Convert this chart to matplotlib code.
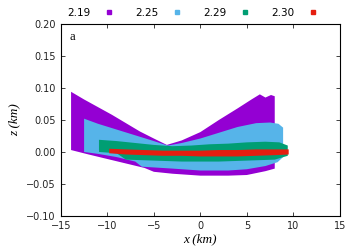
import matplotlib
matplotlib.use("Agg")
import matplotlib.pyplot as plt
from matplotlib.lines import Line2D

labels = ["2.19", "2.25", "2.29", "2.30"]
colors = ["#9400d3", "#56b4e9", "#009e73", "#e51e10"]

# 2.19
x_top_219 = [-13.9, -12.5, -11, -9.5, -8, -6.5, -5, -3.6, -2, 0, 2, 4, 5.5, 6.4, 7.0, 7.6, 8.0]
z_top_219 = [0.094, 0.082, 0.070, 0.058, 0.045, 0.032, 0.021, 0.011, 0.018, 0.031, 0.050, 0.068, 0.082, 0.090, 0.085, 0.089, 0.087]
x_bot_219 = [-13.9, -12, -10, -8, -6, -5, -3, 0, 3, 5, 7, 8.0]
z_bot_219 = [0.003, -0.004, -0.011, -0.018, -0.025, -0.031, -0.034, -0.037, -0.037, -0.036, -0.030, -0.026]

# 2.25
x_top_225 = [-12.5, -11, -9, -7, -5, -3.5, -2, 0, 2, 4, 6, 7.5, 8.4, 8.9]
z_top_225 = [0.052, 0.044, 0.035, 0.026, 0.017, 0.010, 0.014, 0.021, 0.030, 0.039, 0.045, 0.046, 0.044, 0.038]
x_bot_225 = [-12.5, -11, -9, -7, -6.3, -3, 0, 3, 5, 7, 8.3, 8.9]
z_bot_225 = [0.000, -0.003, -0.008, -0.015, -0.023, -0.026, -0.029, -0.029, -0.027, -0.022, -0.016, -0.008]

# 2.29
x_top_229 = [-10.9, -9, -7, -5, -3, -1, 1, 3, 5, 7, 8.5, 9.4]
z_top_229 = [0.019, 0.017, 0.014, 0.011, 0.009, 0.010, 0.012, 0.013, 0.015, 0.016, 0.015, 0.010]
x_bot_229 = [-10.9, -9, -8, -6, -4, -2, 0, 2, 4, 6, 8, 9.4]
z_bot_229 = [0.000, -0.002, -0.012, -0.013, -0.014, -0.015, -0.015, -0.015, -0.014, -0.013, -0.012, -0.006]

# 2.30
x_top_230 = [-9.8, -8, -6, -4, -2, 0, 2, 4, 6, 8, 9.5]
z_top_230 = [0.005, 0.004, 0.003, 0.002, 0.002, 0.002, 0.003, 0.003, 0.004, 0.004, 0.004]
x_bot_230 = [-9.8, -8, -6, -4, -2, 0, 2, 4, 6, 8, 9.5]
z_bot_230 = [-0.002, -0.004, -0.005, -0.006, -0.006, -0.007, -0.007, -0.007, -0.006, -0.005, -0.004]

shapes = [
    (x_top_219, z_top_219, x_bot_219, z_bot_219),
    (x_top_225, z_top_225, x_bot_225, z_bot_225),
    (x_top_229, z_top_229, x_bot_229, z_bot_229),
    (x_top_230, z_top_230, x_bot_230, z_bot_230),
]

fig = plt.figure(figsize=(3.6, 2.52), dpi=100)
ax = fig.add_axes([0.169, 0.143, 0.775, 0.762])

for (xt, zt, xb, zb), c in zip(shapes, colors):
    xs = list(xt) + list(xb[::-1])
    zs = list(zt) + list(zb[::-1])
    ax.fill(xs, zs, color=c, lw=0)

ax.set_xlim(-15, 15)
ax.set_ylim(-0.10, 0.20)
ax.set_xticks([-15, -10, -5, 0, 5, 10, 15])
ax.set_yticks([-0.10, -0.05, 0.00, 0.05, 0.10, 0.15, 0.20])
ax.set_yticklabels(["\u22120.10", "\u22120.05", "0.00", "0.05", "0.10", "0.15", "0.20"])
ax.set_xticklabels(["\u221215", "\u221210", "\u22125", "0", "5", "10", "15"])
ax.tick_params(direction="in", top=True, right=True, labelsize=7, length=3, width=0.6,
               colors="#222222")
for s in ax.spines.values():
    s.set_linewidth(0.8)

serif = {"family": "Liberation Serif", "style": "italic", "size": 9.5}
ax.set_xlabel("x (km)", fontdict=serif, labelpad=2)
ax.set_ylabel("z (km)", fontdict=serif, labelpad=4)
ax.text(0.03, 0.93, "a", transform=ax.transAxes, family="Liberation Serif", fontsize=9,
        va="center")

handles = [Line2D([], [], ls="none", marker="s", ms=2.8, color=c) for c in colors]
ax.legend(handles, labels, ncol=4, loc="lower center", bbox_to_anchor=(0.475, 1.0),
          frameon=False, markerfirst=False, fontsize=7.5, handlelength=1.2,
          columnspacing=1.9, handletextpad=1.2, borderaxespad=0.2)

fig.savefig("out.png", dpi=100)
